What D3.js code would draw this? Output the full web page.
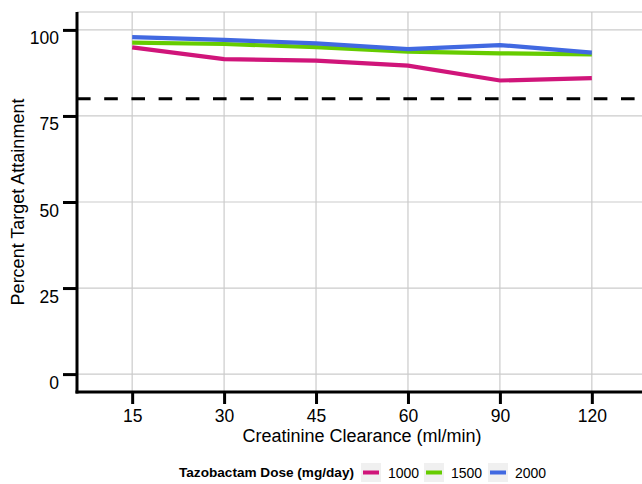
<!DOCTYPE html>
<html lang="en">
<head>
    <meta charset="UTF-8">
    <title>Percent Target Attainment</title>
    <script src="https://d3js.org/d3.v7.min.js"></script>
    <style>
        body { margin: 0; background: #fff; font-family: "Liberation Sans", Arial, sans-serif; }
        .grid line { stroke: #cbcbcb; stroke-width: 1.2; }
    </style>
</head>
<body>
<svg id="chart" width="642" height="484"></svg>
<script>
    // Data
    const clearance = ["15", "30", "45", "60", "90", "120"];
    const doses = ["1000", "1500", "2000"];
    const dose1000 = [94.9, 91.5, 91.1, 89.6, 85.3, 86.0];
    const dose1500 = [96.3, 95.9, 95.0, 93.7, 93.2, 92.9];
    const dose2000 = [97.9, 97.1, 96.1, 94.4, 95.6, 93.4];
    const yTicks = [0, 25, 50, 75, 100];
    const target = 80;
    const colors = ["#d0157a", "#66cc00", "#4169e1"];

    const series = [dose1000, dose1500, dose2000];

    const margin = { left: 77, top: 12, right: -5, bottom: 92 };
    const W = 642, H = 484;
    const svg = d3.select("#chart");

    const x = d3.scalePoint()
        .domain(clearance)
        .range([margin.left, W - margin.right])
        .padding(0.6);
    const y = d3.scaleLinear()
        .domain([-5.2, 105.2])
        .range([H - margin.bottom, margin.top]);

    // panel grid
    const grid = svg.append("g").attr("class", "grid");
    grid.selectAll(".h").data(yTicks).enter().append("line")
        .attr("x1", margin.left).attr("x2", W)
        .attr("y1", d => y(d)).attr("y2", d => y(d));
    grid.selectAll(".v").data(clearance).enter().append("line")
        .attr("x1", d => x(d)).attr("x2", d => x(d))
        .attr("y1", margin.top).attr("y2", H - margin.bottom);
    // panel border (top)
    grid.append("line")
        .attr("x1", margin.left).attr("x2", W)
        .attr("y1", margin.top).attr("y2", margin.top)
        .style("stroke", "#c4c4c4");

    // target line
    svg.append("line")
        .attr("x1", margin.left).attr("x2", W)
        .attr("y1", y(target)).attr("y2", y(target))
        .attr("stroke", "#000")
        .attr("stroke-width", 3)
        .attr("stroke-dasharray", "13.6,13.6");

    // series lines
    const line = d3.line()
        .x((d, i) => x(clearance[i]))
        .y(d => y(d));
    series.forEach((s, k) => {
        svg.append("path")
            .datum(s)
            .attr("d", line)
            .attr("fill", "none")
            .attr("stroke", colors[k])
            .attr("stroke-width", 4.2);
    });

    // axes
    const xAxis = svg.append("g")
        .attr("transform", `translate(0,${H - margin.bottom})`)
        .call(d3.axisBottom(x).tickSize(12).tickPadding(6));
    const yAxis = svg.append("g")
        .attr("transform", `translate(${margin.left},0)`)
        .call(d3.axisLeft(y).tickValues(yTicks).tickSize(14).tickPadding(4));

    [xAxis, yAxis].forEach(g => {
        g.select(".domain").remove();
        g.selectAll(".tick line").attr("stroke", "#000").attr("stroke-width", 3);
        g.selectAll(".tick text")
            .style("font-family", "Liberation Sans, Arial, sans-serif")
            .style("font-size", "17.5px")
            .attr("fill", "#000");
    });
    yAxis.selectAll(".tick text").attr("dy", "14px");

    // axis lines
    svg.append("line")
        .attr("x1", margin.left).attr("x2", margin.left)
        .attr("y1", margin.top).attr("y2", H - margin.bottom + 1.5)
        .attr("stroke", "#000").attr("stroke-width", 3);
    svg.append("line")
        .attr("x1", margin.left - 1.5).attr("x2", W)
        .attr("y1", H - margin.bottom).attr("y2", H - margin.bottom)
        .attr("stroke", "#000").attr("stroke-width", 3);

    // titles
    svg.append("text")
        .attr("x", (margin.left + W - margin.right) / 2)
        .attr("y", 442)
        .attr("text-anchor", "middle")
        .style("font-size", "18px")
        .text("Creatinine Clearance (ml/min)");
    svg.append("text")
        .attr("transform", `translate(24,${(margin.top + H - margin.bottom) / 2}) rotate(-90)`)
        .attr("text-anchor", "middle")
        .style("font-size", "18px")
        .text("Percent Target Attainment");

    // legend
    const legend = svg.append("g");
    legend.append("text")
        .attr("x", 179).attr("y", 477)
        .style("font-size", "13.6px")
        .style("font-weight", "bold")
        .text("Tazobactam Dose (mg/day)");
    const keyX = [361, 424, 488];
    doses.forEach((d, k) => {
        legend.append("rect")
            .attr("x", keyX[k]).attr("y", 463)
            .attr("width", 20).attr("height", 19)
            .attr("fill", "#f0f0f0");
        legend.append("line")
            .attr("x1", keyX[k] + 2).attr("x2", keyX[k] + 18)
            .attr("y1", 472.5).attr("y2", 472.5)
            .attr("stroke", colors[k]).attr("stroke-width", 4);
        legend.append("text")
            .attr("x", keyX[k] + 27).attr("y", 478)
            .style("font-size", "14px")
            .text(d);
    });
</script>
</body>
</html>
